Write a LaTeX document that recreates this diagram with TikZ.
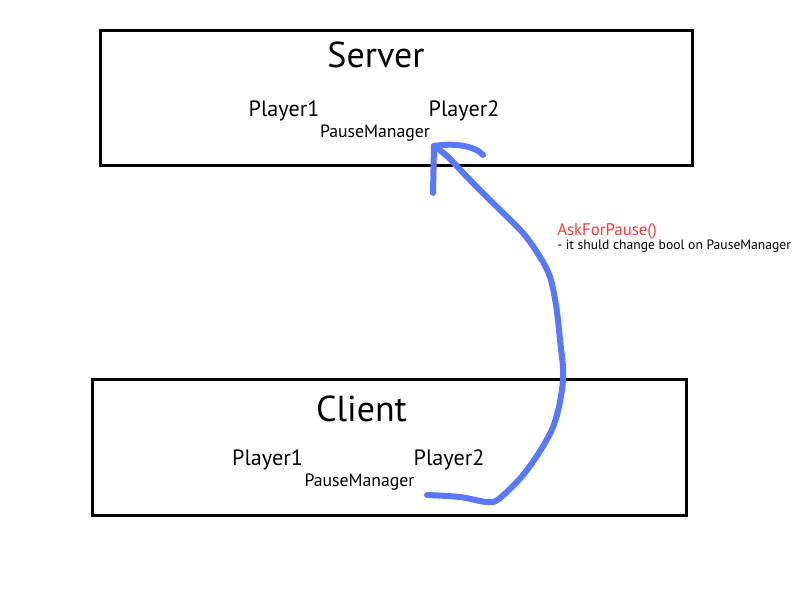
\documentclass[tikz,border=0pt]{standalone}
\usepackage{fontspec}
\setmainfont{PT Sans}
\definecolor{penblue}{RGB}{88,120,255}
\definecolor{labelred}{RGB}{240,60,60}
\begin{document}
\begin{tikzpicture}[x=0.75pt,y=-0.75pt,
  box/.style={draw=black,line width=2.25pt,rectangle,inner sep=0pt},
  title/.style={anchor=base,font=\fontsize{27}{30}\selectfont,inner sep=0pt},
  player/.style={anchor=base,font=\fontsize{16.6}{19}\selectfont,inner sep=0pt},
  manager/.style={anchor=base,font=\fontsize{13.3}{15}\selectfont,inner sep=0pt},
  pen/.style={draw=penblue,line width=4.5pt,line cap=round,line join=round}]
\useasboundingbox (0,0) rectangle (800,600);
% boxes
\node[box,minimum width=444pt,minimum height=101.25pt] (server) at (396.5,98) {};
\node[box,minimum width=445.5pt,minimum height=102pt] (client) at (389.5,447.5) {};
% server texts
\node[title] (stitle) at (376,67.5) {Server};
\node[player] (sp1) at (284,116.7) {Player1};
\node[player] (sp2) at (464,116.7) {Player2};
\node[manager] (spm) at (375,137.3) {PauseManager};
% client texts
\node[title] (ctitle) at (361.5,421) {Client};
\node[player] (cp1) at (267.5,465.7) {Player1};
\node[player] (cp2) at (449,465.7) {Player2};
\node[manager] (cpm) at (359.5,486) {PauseManager};
% label
\node[anchor=base west,inner sep=0pt,text=labelred,font=\fontsize{12.6}{15}\selectfont] (ask) at (557,235) {AskForPause()};
\node[anchor=base west,inner sep=0pt,font=\fontsize{10.2}{12}\selectfont] (note) at (557,249.3) {- it shuld change bool on PauseManager};
% hand-drawn arrow
\coordinate (from) at (427,495);
\coordinate (tip) at (434,146);
\draw[pen] plot[smooth,tension=0.55] coordinates {(427,495) (460,497) (487,502) (500,498) (527,470) (553,427) (563,380) (560,340) (556,305) (550,277) (540,257) (523,233) (497,207) (470,180) (447,156) (434,146)};
\draw[pen] (433,193) -- (tip) .. controls (452,143) and (474,145) .. (483,155);
\end{tikzpicture}
\end{document}
